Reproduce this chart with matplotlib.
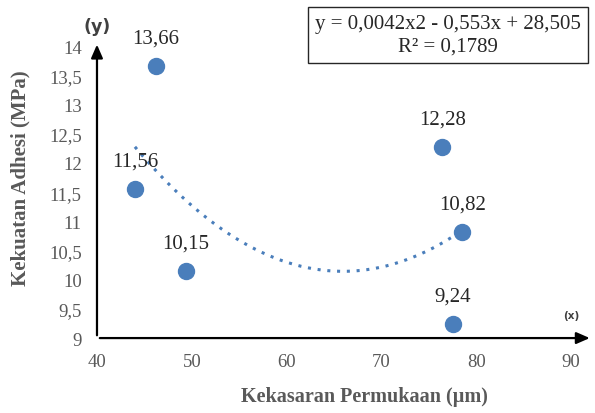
import matplotlib

matplotlib.use("Agg")

import matplotlib.pyplot as plt
import numpy as np

# data
roughness = [44.0, 46.2, 49.4, 76.4, 78.5, 77.5]
adhesion = [11.56, 13.66, 10.15, 12.28, 10.82, 9.24]
point_labels = ["11,56", "13,66", "10,15", "12,28", "10,82", "9,24"]
x_ticks = [40, 50, 60, 70, 80, 90]
y_ticks = [9, 9.5, 10, 10.5, 11, 11.5, 12, 12.5, 13, 13.5, 14]
equation_text = "y = 0,0042x2 - 0,553x + 28,505\nR² = 0,1789"

GRAY = "#595959"
BLUE = "#4a7ebb"

plt.rcParams["font.family"] = ["Liberation Serif", "DejaVu Serif"]

fig = plt.figure(figsize=(5.95, 4.14), dpi=100)
ax = fig.add_axes([0.163, 0.181, 0.797, 0.705])

# polynomial trendline (order 2) fitted to the points
coef = np.polyfit(roughness, adhesion, 2)
xs = np.linspace(min(roughness), max(roughness), 200)
ax.plot(xs, np.polyval(coef, xs), linestyle=(0, (1, 2.2)), color=BLUE, linewidth=2.2)

ax.plot(roughness, adhesion, "o", color=BLUE, markersize=11.5, zorder=3)
for x, y, lab in zip(roughness, adhesion, point_labels):
    ax.annotate(lab, (x, y), xytext=(0, 13), textcoords="offset points",
                ha="center", va="bottom", fontsize=15, color="#262626")

ax.set_xlim(40, 90)
ax.set_ylim(9, 14)
ax.set_xticks(x_ticks)
ax.set_yticks(y_ticks)
ax.set_yticklabels([f"{v:g}".replace(".", ",") for v in y_ticks])
ax.tick_params(length=0, labelsize=13.5, colors=GRAY)
ax.tick_params(axis="y", pad=11)
ax.tick_params(axis="x", pad=11)
for side in ["top", "right", "left", "bottom"]:
    ax.spines[side].set_visible(False)

# axis arrows
ax.annotate("", xy=(1.045, 0), xytext=(0, 0), xycoords="axes fraction",
            arrowprops=dict(arrowstyle="-|>,head_length=0.8,head_width=0.35", color="black", lw=1.6),
            annotation_clip=False)
ax.annotate("", xy=(0, 1.015), xytext=(0, 0), xycoords="axes fraction",
            arrowprops=dict(arrowstyle="-|>,head_length=0.8,head_width=0.35", color="black", lw=1.6),
            annotation_clip=False)
ax.text(0.0, 1.07, "(y)", transform=ax.transAxes, ha="center", va="center",
        fontsize=12.5, fontweight="bold", color="#404040", family=["DejaVu Sans"])
ax.text(1.0, 0.08, "(x)", transform=ax.transAxes, ha="center", va="center",
        fontsize=7.5, fontweight="bold", color="#404040", family=["DejaVu Sans"])

ax.set_xlabel("Kekasaran Permukaan (µm)", fontsize=14.5, fontweight="bold", color=GRAY)
ax.set_ylabel("Kekuatan Adhesi (MPa)", fontsize=15, fontweight="bold", color=GRAY)
ax.xaxis.set_label_coords(0.565, -0.165)
ax.yaxis.set_label_coords(-0.14, 0.55)

fig.text(0.753, 0.913, equation_text, ha="center", va="center", fontsize=15, color="#262626",
         linespacing=1.25,
         bbox=dict(boxstyle="square,pad=0.35", facecolor="white", edgecolor="#262626", linewidth=1))

fig.savefig("out.png", dpi=100)
